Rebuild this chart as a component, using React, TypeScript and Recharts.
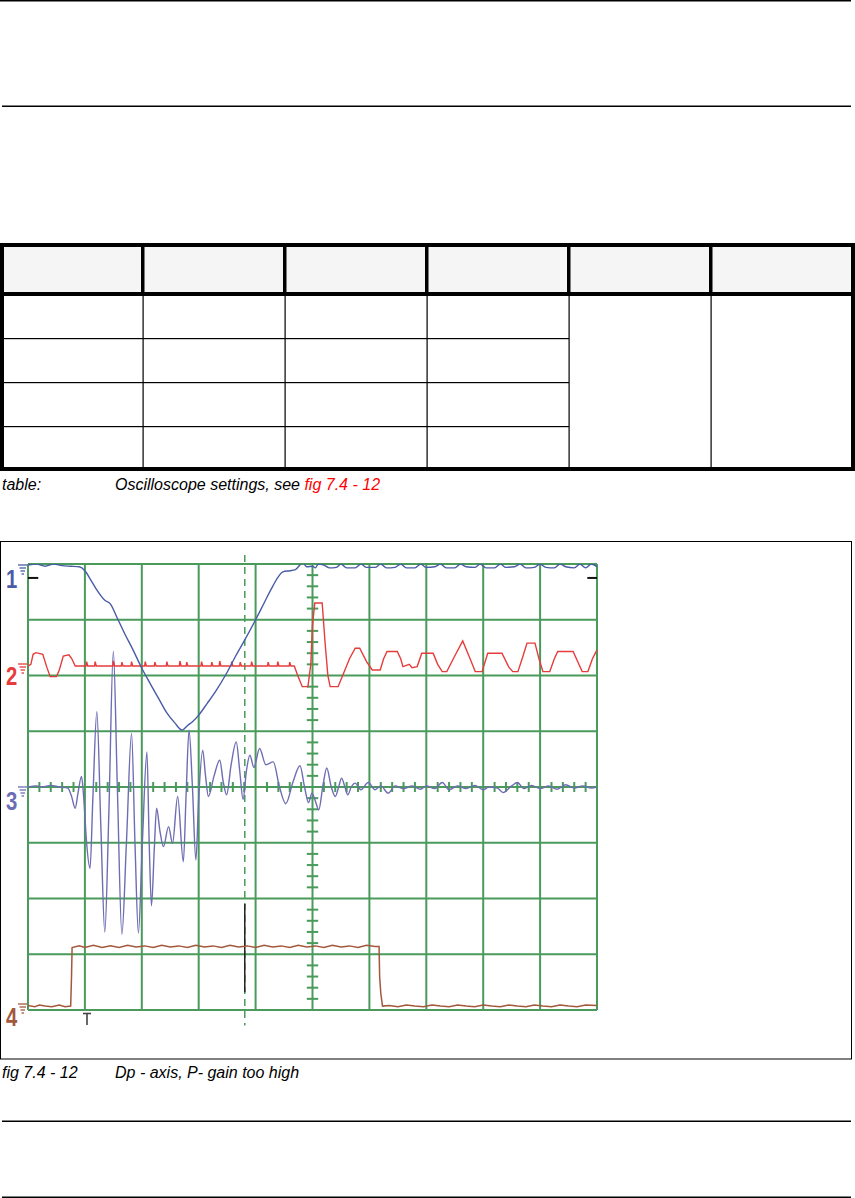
import React from 'react';
import { LineChart, Line, XAxis, YAxis, CartesianGrid, ReferenceLine } from 'recharts';

// scope screen: 10 x 8 divisions, values are in divisions
const X_GRID = [0, 1, 2, 3, 4, 5, 6, 7, 8, 9, 10];
const Y_GRID = [0, 1, 2, 3, 4, 5, 6, 7, 8];

// channel 1 (blue)
const CH1: [number, number][] = [
  [0, 7.98], [0.15, 8.0], [0.3, 7.96], [0.45, 8.0], [0.6, 7.97], [0.75, 7.96], [0.9, 7.95], [1.0, 7.88],
  [1.1, 7.72], [1.2, 7.55], [1.35, 7.35], [1.45, 7.28], [1.56, 7.05], [1.7, 6.75], [1.85, 6.45], [2.0, 6.13],
  [2.15, 5.85], [2.3, 5.58], [2.44, 5.33], [2.58, 5.15], [2.71, 5.02], [2.8, 5.1], [2.9, 5.18], [3.0, 5.29],
  [3.15, 5.5], [3.3, 5.72], [3.49, 6.04], [3.65, 6.35], [3.8, 6.62], [4.0, 7.0], [4.15, 7.3], [4.3, 7.6],
  [4.48, 7.86], [4.6, 7.88], [4.7, 7.9], [4.83, 8.02], [4.9, 7.95], [5.0, 7.96], [5.05, 7.93], [5.1, 8.0],
  [5.2, 7.98], [5.3, 7.93], [5.42, 7.94], [5.5, 8.0], [5.6, 7.93], [5.75, 7.93], [5.85, 8.0], [5.95, 7.94],
  [6.1, 7.94], [6.2, 8.0], [6.3, 7.93], [6.45, 7.94], [6.55, 8.0], [6.65, 7.93], [6.8, 7.93], [6.9, 8.0],
  [7.0, 7.94], [7.15, 7.95], [7.25, 8.0], [7.35, 7.93], [7.5, 7.93], [7.6, 8.0], [7.7, 7.95], [7.85, 7.94],
  [7.95, 8.0], [8.05, 7.93], [8.2, 7.93], [8.3, 8.0], [8.4, 7.94], [8.55, 7.95], [8.65, 8.0], [8.75, 7.93],
  [8.9, 7.94], [9.0, 8.0], [9.1, 7.94], [9.25, 7.93], [9.35, 8.0], [9.45, 7.95], [9.6, 7.93], [9.7, 8.0],
  [9.8, 7.93], [9.9, 8.0], [10, 7.95],
];

// channel 2 (red)
const CH2: [number, number][] = [
  [0, 6.17], [0.05, 6.2], [0.09, 6.38], [0.14, 6.41], [0.26, 6.38], [0.33, 6.15], [0.39, 5.98], [0.5, 5.98],
  [0.55, 6.1], [0.62, 6.35], [0.72, 6.37], [0.77, 6.3], [0.83, 6.17],
  [1.02, 6.17], [1.03, 6.25], [1.05, 6.17], [1.17, 6.17], [1.18, 6.25], [1.2, 6.17],
  [1.49, 6.17], [1.5, 6.26], [1.52, 6.17], [1.64, 6.17], [1.65, 6.24], [1.67, 6.17],
  [1.81, 6.17], [1.82, 6.25], [1.84, 6.17], [2.05, 6.17], [2.06, 6.25], [2.08, 6.17],
  [2.22, 6.17], [2.23, 6.24], [2.25, 6.17], [2.43, 6.17], [2.44, 6.25], [2.46, 6.17],
  [2.66, 6.17], [2.67, 6.26], [2.69, 6.17], [2.78, 6.17], [2.79, 6.24], [2.81, 6.17],
  [3.04, 6.17], [3.05, 6.25], [3.07, 6.17], [3.22, 6.17], [3.23, 6.24], [3.25, 6.17],
  [3.36, 6.17], [3.37, 6.26], [3.39, 6.17], [3.57, 6.17], [3.58, 6.25], [3.6, 6.17],
  [3.72, 6.17], [3.73, 6.24], [3.75, 6.17], [3.92, 6.17], [3.93, 6.25], [3.95, 6.17],
  [4.21, 6.17], [4.22, 6.24], [4.24, 6.17], [4.38, 6.17], [4.39, 6.25], [4.41, 6.17],
  [4.59, 6.17], [4.6, 6.24], [4.62, 6.17],
  [4.68, 6.17], [4.74, 6.0], [4.82, 5.8], [4.92, 5.8], [4.97, 6.2], [5.0, 6.9], [5.04, 7.3], [5.17, 7.3],
  [5.22, 6.6], [5.27, 6.0], [5.31, 5.8], [5.45, 5.8], [5.55, 6.05], [5.65, 6.3], [5.75, 6.49], [5.83, 6.49],
  [5.95, 6.25], [6.05, 6.1], [6.19, 6.1], [6.25, 6.3], [6.31, 6.43], [6.49, 6.43], [6.55, 6.3], [6.59, 6.16],
  [6.7, 6.2], [6.75, 6.14], [6.84, 6.16], [6.92, 6.4], [7.12, 6.4], [7.2, 6.2], [7.28, 6.07], [7.36, 6.07],
  [7.5, 6.35], [7.64, 6.62], [7.75, 6.35], [7.86, 6.07], [7.98, 6.07], [8.08, 6.4], [8.33, 6.4], [8.45, 6.15],
  [8.52, 6.07], [8.61, 6.07], [8.7, 6.35], [8.77, 6.58], [8.91, 6.58], [8.98, 6.3], [9.05, 6.07], [9.17, 6.07],
  [9.25, 6.3], [9.31, 6.43], [9.58, 6.43], [9.66, 6.25], [9.74, 6.07], [9.84, 6.07], [9.92, 6.3], [10, 6.46],
];

// channel 3 (violet)
const CH3: [number, number][] = [
  [0, 4.0], [0.15, 4.02], [0.25, 4.0], [0.4, 4.03], [0.55, 4.0], [0.7, 3.98], [0.76, 3.85], [0.83, 3.62],
  [0.88, 3.9], [0.94, 4.19], [0.98, 3.8], [1.03, 3.0], [1.09, 2.54], [1.14, 3.8], [1.21, 5.35], [1.28, 3.3],
  [1.35, 1.4], [1.42, 3.5], [1.5, 6.43], [1.57, 4.0], [1.65, 1.36], [1.73, 3.0], [1.82, 4.96], [1.88, 3.0],
  [1.94, 1.38], [2.01, 3.0], [2.09, 4.63], [2.13, 3.0], [2.17, 1.87], [2.22, 2.9], [2.26, 3.62], [2.32, 3.2],
  [2.38, 2.93], [2.47, 3.29], [2.54, 2.99], [2.63, 3.83], [2.73, 2.66], [2.78, 3.9], [2.83, 5.02], [2.89, 4.0],
  [2.95, 2.69], [3.0, 3.8], [3.07, 4.66], [3.12, 4.2], [3.17, 3.83], [3.27, 4.2], [3.37, 4.48], [3.43, 4.1],
  [3.49, 3.86], [3.57, 4.4], [3.66, 4.81], [3.72, 4.3], [3.78, 3.78], [3.84, 4.3], [3.9, 4.57], [3.97, 4.35],
  [4.07, 4.69], [4.18, 4.4], [4.31, 4.45], [4.42, 4.0], [4.53, 3.7], [4.66, 4.1], [4.78, 4.38], [4.86, 4.0],
  [4.93, 3.72], [4.99, 3.89], [5.05, 3.75], [5.11, 3.59], [5.18, 4.0], [5.25, 4.34], [5.33, 4.0], [5.4, 3.83],
  [5.46, 4.0], [5.51, 4.16], [5.57, 4.0], [5.62, 3.86], [5.68, 4.0], [5.75, 4.07], [5.85, 3.95], [5.98, 4.08],
  [6.1, 3.95], [6.2, 4.02], [6.33, 3.89], [6.45, 4.02], [6.6, 3.97], [6.75, 4.02], [6.9, 3.96], [7.0, 4.02],
  [7.15, 3.97], [7.28, 4.08], [7.4, 3.95], [7.55, 4.02], [7.7, 3.97], [7.85, 4.03], [8.0, 3.95], [8.1, 4.0],
  [8.25, 3.98], [8.35, 3.9], [8.5, 4.02], [8.6, 4.08], [8.72, 3.97], [8.85, 4.03], [9.0, 3.97], [9.15, 4.02],
  [9.3, 3.96], [9.45, 4.04], [9.6, 3.98], [9.75, 4.02], [9.9, 3.98], [10, 4.0],
];

// channel 4 (brown)
const CH4: [number, number][] = [
  [0, 0.08], [0.12, 0.06], [0.2, 0.09], [0.3, 0.07], [0.42, 0.06], [0.55, 0.09], [0.65, 0.06], [0.75, 0.07],
  [0.765, 0.6], [0.775, 1.12], [0.9, 1.15], [1.0, 1.12], [1.15, 1.16], [1.3, 1.12], [1.45, 1.15], [1.6, 1.12],
  [1.75, 1.16], [1.9, 1.13], [2.05, 1.15], [2.2, 1.12], [2.35, 1.16], [2.5, 1.13], [2.65, 1.15], [2.8, 1.12],
  [2.95, 1.16], [3.1, 1.13], [3.25, 1.15], [3.4, 1.12], [3.55, 1.16], [3.7, 1.13], [3.85, 1.15], [4.0, 1.12],
  [4.15, 1.16], [4.3, 1.13], [4.45, 1.15], [4.6, 1.12], [4.75, 1.16], [4.9, 1.13], [5.05, 1.15], [5.2, 1.12],
  [5.35, 1.16], [5.5, 1.13], [5.65, 1.15], [5.8, 1.12], [5.95, 1.16], [6.1, 1.14], [6.17, 1.14], [6.18, 0.6],
  [6.2, 0.3], [6.23, 0.07], [6.35, 0.08], [6.5, 0.06], [6.65, 0.09], [6.8, 0.07], [6.95, 0.06], [7.1, 0.09],
  [7.25, 0.07], [7.4, 0.06], [7.55, 0.09], [7.7, 0.07], [7.85, 0.06], [8.0, 0.09], [8.15, 0.07], [8.3, 0.06],
  [8.45, 0.09], [8.6, 0.07], [8.75, 0.06], [8.9, 0.09], [9.05, 0.07], [9.2, 0.06], [9.35, 0.09], [9.5, 0.07],
  [9.65, 0.06], [9.8, 0.09], [10, 0.08],
];

const CURSOR_X = 3.81;
const TRIG_LEVEL = 7.75;

const toRows = (pts: [number, number][]) => pts.map(([t, v]) => ({ t, v }));

const GREEN = '#4a9b5b';
const C1 = '#4a5ba8';
const C2 = '#e63c3c';
const C3 = '#6d6db3';
const C4 = '#a3583c';

// minor ticks on the centre axes, 5 per division
const minorX = Array.from({ length: 49 }, (_, i) => (i + 1) * 0.2).filter((t) => Math.abs(t - Math.round(t)) > 0.01);
const minorY = Array.from({ length: 39 }, (_, i) => (i + 1) * 0.2).filter((t) => Math.abs(t - Math.round(t)) > 0.01);

const Ground = ({ y, color }: { y: number; color: string }) => (
  <g stroke={color} strokeWidth={1.3}>
    <line x1={18} y1={y} x2={28} y2={y} />
    <line x1={19.5} y1={y + 3} x2={26} y2={y + 3} />
    <line x1={20.5} y1={y + 6} x2={25} y2={y + 6} />
    <line x1={21.5} y1={y + 9} x2={24} y2={y + 9} />
  </g>
);

// narrow bold digit like the scope's channel numbers
const ChannelLabel = ({ n, y, color }: { n: string; y: number; color: string }) => (
  <text
    x={0}
    y={0}
    transform={`translate(6 ${y}) scale(0.78 1)`}
    fill={color}
    fontSize={26}
    fontWeight="bold"
    fontFamily="'Liberation Sans', Arial"
  >
    {n}
  </text>
);

const capFont = { fontFamily: "'Liberation Sans', Arial, sans-serif", fontStyle: 'italic' as const, fontSize: 16 };

const App: React.FC = () => {
  const colX = [142.5, 284.5, 426.5, 568.5, 710.5];
  const rowY = [338, 382, 426];
  return (
    <div style={{ position: 'absolute', left: 0, top: 0, width: 855, height: 1198, background: '#fff', overflow: 'hidden' }}>
      <svg width={855} height={1198} style={{ position: 'absolute', left: 0, top: 0 }}>
        {/* page rules */}
        <rect x={0} y={0} width={851} height={1.5} fill="#000" />
        <rect x={2} y={105.5} width={849} height={1.5} fill="#000" />
        <rect x={2} y={1120.5} width={849} height={1.5} fill="#000" />
        <rect x={2} y={1196.5} width={849} height={1.5} fill="#000" />

        {/* settings table (left empty as in the source) */}
        <rect x={4} y={247} width={847} height={45} fill="#f5f5f5" />
        {colX.map((x) => (
          <rect key={'h' + x} x={x - 1.5} y={247} width={3.5} height={45} fill="#000" />
        ))}
        {colX.map((x) => (
          <rect key={'b' + x} x={x} y={296} width={1.2} height={171} fill="#000" />
        ))}
        {rowY.map((y) => (
          <rect key={'r' + y} x={4} y={y} width={565} height={1.2} fill="#000" />
        ))}
        <rect x={0} y={243} width={855} height={4} fill="#000" />
        <rect x={0} y={292} width={855} height={4} fill="#000" />
        <rect x={0} y={467} width={855} height={4} fill="#000" />
        <rect x={0} y={243} width={4} height={228} fill="#000" />
        <rect x={851} y={243} width={4} height={228} fill="#000" />

        <text x={2} y={490} {...capFont}>table:</text>
        <text x={115} y={490} {...capFont}>
          Oscilloscope settings, see <tspan fill="#ff0000">fig 7.4 - 12</tspan>
        </text>

        {/* figure frame */}
        <rect x={0.5} y={541.5} width={851} height={517.5} fill="none" stroke="#000" strokeWidth={1} />

        <ChannelLabel n="1" y={588} color={C1} />
        <ChannelLabel n="2" y={685} color={C2} />
        <ChannelLabel n="3" y={810} color={C3} />
        <ChannelLabel n="4" y={1026} color={C4} />
        <Ground y={565} color={C1} />
        <Ground y={664} color={C2} />
        <Ground y={787} color={C3} />
        <Ground y={1004} color={C4} />

        {/* trigger position marker */}
        <g stroke="#444" strokeWidth={1.6}>
          <line x1={83} y1={1013.5} x2={91} y2={1013.5} />
          <line x1={87} y1={1013.5} x2={87} y2={1025} />
        </g>

        <text x={2} y={1078} {...capFont}>fig 7.4 - 12</text>
        <text x={115} y={1078} {...capFont}>Dp - axis, P- gain too high</text>
      </svg>

      <div style={{ position: 'absolute', left: 0, top: 544 }}>
        <LineChart width={617} height={496} margin={{ top: 20, right: 20, bottom: 30, left: 28 }}>
          <XAxis type="number" dataKey="t" domain={[0, 10]} ticks={X_GRID} hide allowDataOverflow />
          <YAxis type="number" domain={[0, 8]} ticks={Y_GRID} hide allowDataOverflow />
          <CartesianGrid stroke={GREEN} strokeWidth={2} />
          {minorX.map((t) => (
            <ReferenceLine
              key={'mx' + t}
              segment={[{ x: t, y: 3.91 }, { x: t, y: 4.09 }]}
              stroke={GREEN}
              strokeWidth={2}
              ifOverflow="visible"
            />
          ))}
          {minorY.map((v) => (
            <ReferenceLine
              key={'my' + v}
              segment={[{ x: 4.9, y: v }, { x: 5.1, y: v }]}
              stroke={GREEN}
              strokeWidth={2}
              ifOverflow="visible"
            />
          ))}
          <ReferenceLine
            segment={[{ x: CURSOR_X, y: 8.16 }, { x: CURSOR_X, y: -0.28 }]}
            stroke={GREEN}
            strokeWidth={1.5}
            strokeDasharray="7 5"
            ifOverflow="visible"
          />
          <ReferenceLine
            segment={[{ x: CURSOR_X, y: 1.9 }, { x: CURSOR_X, y: 0.32 }]}
            stroke="#222"
            strokeWidth={1.5}
            ifOverflow="visible"
          />
          <ReferenceLine segment={[{ x: 0, y: TRIG_LEVEL }, { x: 0.18, y: TRIG_LEVEL }]} stroke="#111" strokeWidth={2} ifOverflow="visible" />
          <ReferenceLine segment={[{ x: 9.83, y: TRIG_LEVEL }, { x: 10, y: TRIG_LEVEL }]} stroke="#111" strokeWidth={2} ifOverflow="visible" />

          <Line data={toRows(CH4)} dataKey="v" type="linear" stroke={C4} strokeWidth={1.5} dot={false} isAnimationActive={false} />
          <Line data={toRows(CH3)} dataKey="v" type="monotone" stroke={C3} strokeWidth={1.4} dot={false} isAnimationActive={false} />
          <Line data={toRows(CH2)} dataKey="v" type="linear" stroke={C2} strokeWidth={1.4} dot={false} isAnimationActive={false} />
          <Line data={toRows(CH1)} dataKey="v" type="monotone" stroke={C1} strokeWidth={1.4} dot={false} isAnimationActive={false} />
        </LineChart>
      </div>
    </div>
  );
};

export default App;
